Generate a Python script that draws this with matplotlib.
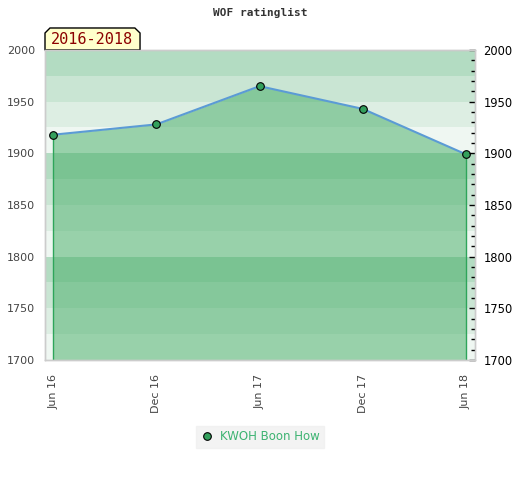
import matplotlib
matplotlib.use("Agg")
import matplotlib.pyplot as plt
from matplotlib.patches import Polygon
import numpy as np

months = ["Jun 16", "Dec 16", "Jun 17", "Dec 17", "Jun 18"]
ratings = [1918, 1928, 1965, 1943, 1899]
player = "KWOH Boon How"
period = "2016-2018"
title = "WOF ratinglist"

band_colors = ["#b3dcc2", "#c9e5d3", "#ddeee3", "#eff7f2"]
fill_color = "#43ac64"
line_color = "#5b9bd5"
marker_color = "#33a05c"

fig = plt.figure(figsize=(5.2, 4.8), dpi=100)
ax = fig.add_axes([45 / 520, 120 / 480, 430 / 520, 310 / 480])

x = np.arange(len(months))
ymin, ymax = 1700, 2000

# horizontal bands, 4 shades repeating every 100 points
for i, lo in enumerate(range(ymax - 25, ymin - 1, -25)):
    ax.axhspan(lo, lo + 25, color=band_colors[i % 4], lw=0, zorder=0)

ax.fill_between(x, ratings, ymin, color=fill_color, alpha=0.5, lw=0, zorder=1)
ax.vlines([x[0], x[-1]], ymin, [ratings[0], ratings[-1]], color="#2ea55a", lw=1, zorder=2)
ax.plot(x, ratings, color=line_color, lw=1.5, zorder=3)
ax.plot(x, ratings, "o", ms=5.5, mfc=marker_color, mec="black", mew=0.8,
        zorder=4, label=player)

ax.set_xlim(-0.078, len(months) - 1 + 0.087)
ax.set_ylim(ymin, ymax)
ax.set_xticks(x)
ax.set_xticklabels(months, rotation=90, fontsize=8, color="#444444")
ax.tick_params(axis="x", length=0, pad=10)

yt = np.arange(ymin, ymax + 1, 50)
ax.set_yticks(yt)
ax.set_yticklabels([str(v) for v in yt], fontsize=8, color="#444444")
ax.tick_params(axis="y", length=0, pad=7)

ax2 = ax.twinx()
ax2.set_ylim(ymin, ymax)
ax2.set_yticks(yt)
ax2.set_yticks(np.arange(ymin, ymax + 1, 10), minor=True)
ax2.set_yticklabels([str(v) for v in yt], fontsize=8.3, color="black")
ax2.tick_params(axis="y", which="major", direction="in", length=4, width=1, color="black", pad=6)
ax2.tick_params(axis="y", which="minor", direction="in", length=3, width=1, color="black")

for a in (ax, ax2):
    for s in a.spines.values():
        s.set_color("#cccccc")
        s.set_linewidth(1)

fig.text(0.5, 1 - 13 / 480, title, ha="center", va="center",
         fontsize=8, family="DejaVu Sans Mono", fontweight="bold", color="#333333")

# period tag with chamfered top corners
tag = Polygon([(0, 1), (0, 1.0548), (0.0116, 1.071), (0.209, 1.071),
               (0.221, 1.0548), (0.221, 1)], closed=True,
              transform=ax.transAxes, facecolor="#ffffcc", edgecolor="black",
              lw=1, clip_on=False, zorder=5)
ax.add_patch(tag)
ax.text(0.110, 1.034, period, transform=ax.transAxes, ha="center", va="center",
        fontsize=11, family="DejaVu Sans Mono", color="#8b0000", zorder=6)

leg = fig.legend(loc="center", bbox_to_anchor=(0.5, 1 - 437 / 480), frameon=True,
                 fontsize=8.5, handletextpad=0.6, borderpad=0.4, handlelength=1.0)
leg.get_frame().set_facecolor("#f0f0f0")
leg.get_frame().set_edgecolor("#f0f0f0")
leg.get_frame().set_boxstyle("square", pad=0)
for t in leg.get_texts():
    t.set_color("#3cb371")

fig.savefig("out.png", dpi=100)
